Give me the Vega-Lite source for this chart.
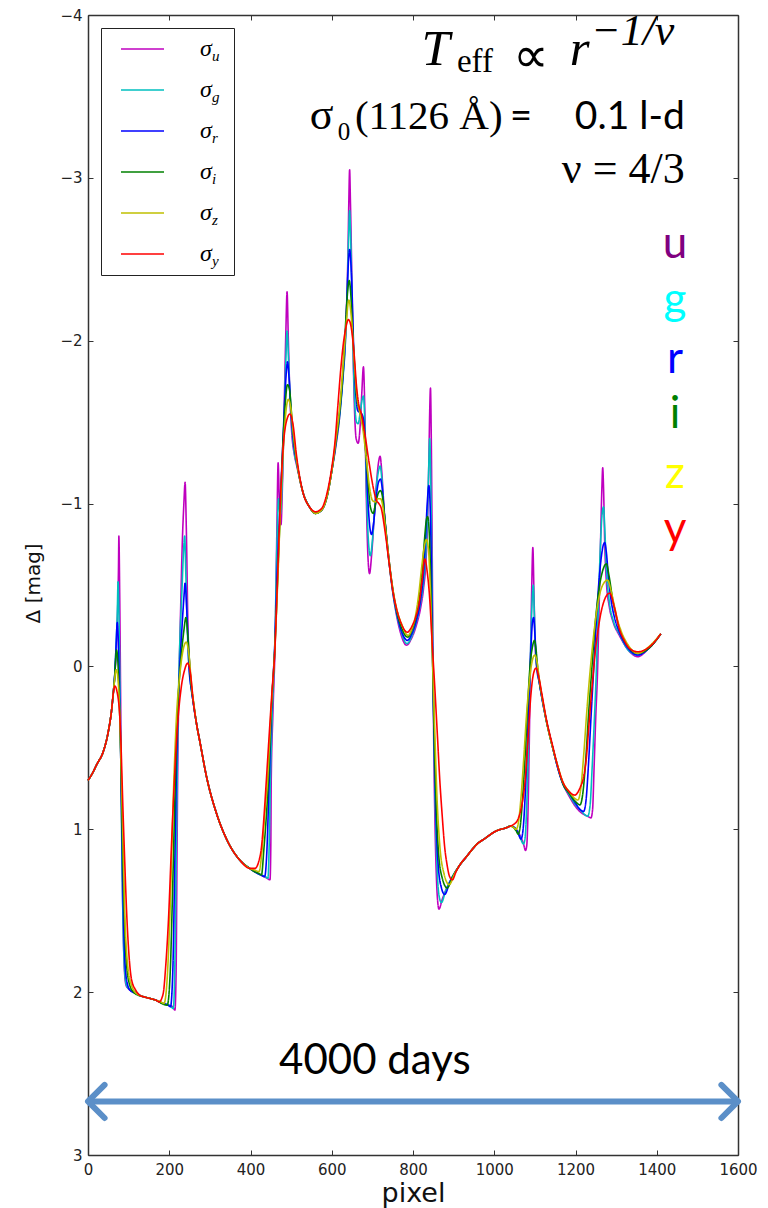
{
"$schema": "https://vega.github.io/schema/vega-lite/v6.json",
"width": 650,
"height": 1140,
"autosize": {"type": "none"},
"padding": {"left": 88, "top": 15, "right": 30, "bottom": 53},
"background": "white",
"config": {
  "view": {"stroke": null},
  "axis": {"grid": false, "domainColor": "#333333", "domainWidth": 1.5, "tickColor": "#333333", "tickWidth": 1, "tickSize": -5, "labelFont": "DejaVu Sans", "labelFontSize": 15, "labelColor": "#222222", "labelFlush": false, "labelOverlap": false, "titleFont": "DejaVu Sans", "titleFontWeight": "normal", "titleColor": "#111111"},
  "axisX": {"titleFontSize": 27}
},
"resolve": {"axis": {"x": "independent", "y": "independent"}},
"layer": [
{
"data": {"values": [
{"band":"u","pixel":0,"mag":0.70},{"band":"u","pixel":10,"mag":0.66},{"band":"u","pixel":22,"mag":0.60},{"band":"u","pixel":38,"mag":0.52},{"band":"u","pixel":50,"mag":0.40},{"band":"u","pixel":58,"mag":0.27},{"band":"u","pixel":62,"mag":0.17},{"band":"u","pixel":66,"mag":0.05},{"band":"u","pixel":70,"mag":-0.12},{"band":"u","pixel":73,"mag":-0.35},{"band":"u","pixel":75,"mag":-0.60},{"band":"u","pixel":76,"mag":-0.80},{"band":"u","pixel":78,"mag":-0.45},{"band":"u","pixel":80,"mag":0.10},{"band":"u","pixel":82,"mag":0.70},{"band":"u","pixel":84,"mag":1.20},{"band":"u","pixel":87,"mag":1.65},{"band":"u","pixel":90,"mag":1.88},{"band":"u","pixel":94,"mag":1.96},{"band":"u","pixel":100,"mag":1.98},{"band":"u","pixel":115,"mag":2.00},{"band":"u","pixel":128,"mag":2.02},{"band":"u","pixel":140,"mag":2.03},{"band":"u","pixel":155,"mag":2.04},{"band":"u","pixel":168,"mag":2.05},{"band":"u","pixel":185,"mag":2.07},{"band":"u","pixel":200,"mag":2.08},{"band":"u","pixel":208,"mag":2.09},{"band":"u","pixel":214,"mag":2.11},{"band":"u","pixel":217,"mag":1.85},{"band":"u","pixel":219,"mag":1.20},{"band":"u","pixel":221,"mag":0.60},{"band":"u","pixel":224,"mag":0.10},{"band":"u","pixel":228,"mag":-0.35},{"band":"u","pixel":232,"mag":-0.75},{"band":"u","pixel":236,"mag":-1.00},{"band":"u","pixel":239,"mag":-1.13},{"band":"u","pixel":242,"mag":-0.85},{"band":"u","pixel":246,"mag":-0.25},{"band":"u","pixel":251,"mag":0.02},{"band":"u","pixel":255,"mag":0.14},{"band":"u","pixel":259,"mag":0.22},{"band":"u","pixel":267,"mag":0.35},{"band":"u","pixel":276,"mag":0.47},{"band":"u","pixel":292,"mag":0.68},{"band":"u","pixel":316,"mag":0.90},{"band":"u","pixel":341,"mag":1.06},{"band":"u","pixel":374,"mag":1.19},{"band":"u","pixel":398,"mag":1.24},{"band":"u","pixel":410,"mag":1.26},{"band":"u","pixel":425,"mag":1.28},{"band":"u","pixel":440,"mag":1.30},{"band":"u","pixel":448,"mag":1.31},{"band":"u","pixel":450,"mag":1.10},{"band":"u","pixel":451,"mag":0.70},{"band":"u","pixel":455,"mag":0.30},{"band":"u","pixel":461,"mag":-0.20},{"band":"u","pixel":465,"mag":-0.85},{"band":"u","pixel":468,"mag":-1.25},{"band":"u","pixel":471,"mag":-1.02},{"band":"u","pixel":475,"mag":-0.87},{"band":"u","pixel":479,"mag":-1.15},{"band":"u","pixel":483,"mag":-1.60},{"band":"u","pixel":487,"mag":-2.05},{"band":"u","pixel":490,"mag":-2.30},{"band":"u","pixel":493,"mag":-2.02},{"band":"u","pixel":497,"mag":-1.66},{"band":"u","pixel":502,"mag":-1.42},{"band":"u","pixel":508,"mag":-1.30},{"band":"u","pixel":514,"mag":-1.23},{"band":"u","pixel":529,"mag":-1.07},{"band":"u","pixel":545,"mag":-0.98},{"band":"u","pixel":560,"mag":-0.94},{"band":"u","pixel":575,"mag":-0.96},{"band":"u","pixel":588,"mag":-1.04},{"band":"u","pixel":600,"mag":-1.20},{"band":"u","pixel":610,"mag":-1.35},{"band":"u","pixel":620,"mag":-1.55},{"band":"u","pixel":628,"mag":-1.80},{"band":"u","pixel":633,"mag":-1.97},{"band":"u","pixel":637,"mag":-2.25},{"band":"u","pixel":640,"mag":-2.55},{"band":"u","pixel":642,"mag":-2.85},{"band":"u","pixel":644,"mag":-3.05},{"band":"u","pixel":646,"mag":-2.85},{"band":"u","pixel":648,"mag":-2.60},{"band":"u","pixel":652,"mag":-2.00},{"band":"u","pixel":656,"mag":-1.58},{"band":"u","pixel":660,"mag":-1.40},{"band":"u","pixel":665,"mag":-1.37},{"band":"u","pixel":670,"mag":-1.48},{"band":"u","pixel":674,"mag":-1.68},{"band":"u","pixel":678,"mag":-1.84},{"band":"u","pixel":681,"mag":-1.62},{"band":"u","pixel":685,"mag":-1.05},{"band":"u","pixel":689,"mag":-0.68},{"band":"u","pixel":693,"mag":-0.57},{"band":"u","pixel":698,"mag":-0.68},{"band":"u","pixel":704,"mag":-0.90},{"band":"u","pixel":710,"mag":-1.12},{"band":"u","pixel":715,"mag":-1.25},{"band":"u","pixel":719,"mag":-1.29},{"band":"u","pixel":723,"mag":-1.20},{"band":"u","pixel":728,"mag":-1.00},{"band":"u","pixel":735,"mag":-0.78},{"band":"u","pixel":742,"mag":-0.62},{"band":"u","pixel":750,"mag":-0.46},{"band":"u","pixel":759,"mag":-0.32},{"band":"u","pixel":770,"mag":-0.20},{"band":"u","pixel":784,"mag":-0.13},{"band":"u","pixel":796,"mag":-0.17},{"band":"u","pixel":808,"mag":-0.25},{"band":"u","pixel":818,"mag":-0.35},{"band":"u","pixel":826,"mag":-0.48},{"band":"u","pixel":832,"mag":-0.65},{"band":"u","pixel":836,"mag":-0.90},{"band":"u","pixel":839,"mag":-1.25},{"band":"u","pixel":841,"mag":-1.55},{"band":"u","pixel":843,"mag":-1.71},{"band":"u","pixel":845,"mag":-1.40},{"band":"u","pixel":847,"mag":-0.80},{"band":"u","pixel":849,"mag":-0.10},{"band":"u","pixel":851,"mag":0.45},{"band":"u","pixel":854,"mag":0.95},{"band":"u","pixel":857,"mag":1.25},{"band":"u","pixel":860,"mag":1.42},{"band":"u","pixel":864,"mag":1.49},{"band":"u","pixel":872,"mag":1.43},{"band":"u","pixel":885,"mag":1.35},{"band":"u","pixel":900,"mag":1.28},{"band":"u","pixel":915,"mag":1.22},{"band":"u","pixel":931,"mag":1.17},{"band":"u","pixel":947,"mag":1.12},{"band":"u","pixel":958,"mag":1.09},{"band":"u","pixel":975,"mag":1.06},{"band":"u","pixel":1005,"mag":1.01},{"band":"u","pixel":1030,"mag":0.99},{"band":"u","pixel":1040,"mag":0.98},{"band":"u","pixel":1050,"mag":0.99},{"band":"u","pixel":1062,"mag":1.03},{"band":"u","pixel":1072,"mag":1.09},{"band":"u","pixel":1077,"mag":1.13},{"band":"u","pixel":1080,"mag":1.10},{"band":"u","pixel":1083,"mag":0.90},{"band":"u","pixel":1086,"mag":0.50},{"band":"u","pixel":1089,"mag":0.00},{"band":"u","pixel":1092,"mag":-0.45},{"band":"u","pixel":1095,"mag":-0.73},{"band":"u","pixel":1098,"mag":-0.42},{"band":"u","pixel":1101,"mag":-0.12},{"band":"u","pixel":1105,"mag":0.02},{"band":"u","pixel":1111,"mag":0.10},{"band":"u","pixel":1120,"mag":0.23},{"band":"u","pixel":1128,"mag":0.33},{"band":"u","pixel":1144,"mag":0.50},{"band":"u","pixel":1156,"mag":0.62},{"band":"u","pixel":1169,"mag":0.72},{"band":"u","pixel":1185,"mag":0.80},{"band":"u","pixel":1200,"mag":0.86},{"band":"u","pixel":1215,"mag":0.90},{"band":"u","pixel":1230,"mag":0.92},{"band":"u","pixel":1238,"mag":0.93},{"band":"u","pixel":1242,"mag":0.88},{"band":"u","pixel":1246,"mag":0.60},{"band":"u","pixel":1250,"mag":0.30},{"band":"u","pixel":1254,"mag":0.05},{"band":"u","pixel":1258,"mag":-0.35},{"band":"u","pixel":1262,"mag":-0.80},{"band":"u","pixel":1265,"mag":-1.10},{"band":"u","pixel":1267,"mag":-1.22},{"band":"u","pixel":1269,"mag":-1.10},{"band":"u","pixel":1272,"mag":-0.75},{"band":"u","pixel":1276,"mag":-0.52},{"band":"u","pixel":1283,"mag":-0.37},{"band":"u","pixel":1293,"mag":-0.27},{"band":"u","pixel":1308,"mag":-0.19},{"band":"u","pixel":1330,"mag":-0.10},{"band":"u","pixel":1353,"mag":-0.06},{"band":"u","pixel":1380,"mag":-0.11},{"band":"u","pixel":1410,"mag":-0.20},

{"band":"g","pixel":0,"mag":0.70},{"band":"g","pixel":10,"mag":0.66},{"band":"g","pixel":22,"mag":0.60},{"band":"g","pixel":38,"mag":0.52},{"band":"g","pixel":50,"mag":0.40},{"band":"g","pixel":58,"mag":0.27},{"band":"g","pixel":62,"mag":0.17},{"band":"g","pixel":66,"mag":0.05},{"band":"g","pixel":69,"mag":-0.12},{"band":"g","pixel":72,"mag":-0.32},{"band":"g","pixel":74,"mag":-0.52},{"band":"g","pixel":76,"mag":-0.35},{"band":"g","pixel":78,"mag":0.00},{"band":"g","pixel":81,"mag":0.60},{"band":"g","pixel":83,"mag":1.05},{"band":"g","pixel":86,"mag":1.55},{"band":"g","pixel":90,"mag":1.86},{"band":"g","pixel":95,"mag":1.96},{"band":"g","pixel":101,"mag":1.98},{"band":"g","pixel":118,"mag":2.00},{"band":"g","pixel":128,"mag":2.02},{"band":"g","pixel":140,"mag":2.03},{"band":"g","pixel":155,"mag":2.04},{"band":"g","pixel":168,"mag":2.05},{"band":"g","pixel":185,"mag":2.07},{"band":"g","pixel":200,"mag":2.08},{"band":"g","pixel":210,"mag":2.10},{"band":"g","pixel":214,"mag":1.80},{"band":"g","pixel":217,"mag":1.20},{"band":"g","pixel":221,"mag":0.40},{"band":"g","pixel":226,"mag":-0.15},{"band":"g","pixel":231,"mag":-0.45},{"band":"g","pixel":235,"mag":-0.70},{"band":"g","pixel":238,"mag":-0.80},{"band":"g","pixel":241,"mag":-0.55},{"band":"g","pixel":246,"mag":-0.12},{"band":"g","pixel":252,"mag":0.09},{"band":"g","pixel":259,"mag":0.22},{"band":"g","pixel":267,"mag":0.35},{"band":"g","pixel":276,"mag":0.47},{"band":"g","pixel":292,"mag":0.68},{"band":"g","pixel":316,"mag":0.90},{"band":"g","pixel":341,"mag":1.06},{"band":"g","pixel":374,"mag":1.19},{"band":"g","pixel":398,"mag":1.24},{"band":"g","pixel":410,"mag":1.26},{"band":"g","pixel":425,"mag":1.28},{"band":"g","pixel":436,"mag":1.29},{"band":"g","pixel":443,"mag":1.30},{"band":"g","pixel":446,"mag":1.10},{"band":"g","pixel":449,"mag":0.70},{"band":"g","pixel":454,"mag":0.25},{"band":"g","pixel":460,"mag":-0.15},{"band":"g","pixel":465,"mag":-0.75},{"band":"g","pixel":469,"mag":-1.03},{"band":"g","pixel":473,"mag":-0.93},{"band":"g","pixel":478,"mag":-1.12},{"band":"g","pixel":483,"mag":-1.55},{"band":"g","pixel":487,"mag":-1.88},{"band":"g","pixel":490,"mag":-2.06},{"band":"g","pixel":494,"mag":-1.86},{"band":"g","pixel":498,"mag":-1.62},{"band":"g","pixel":503,"mag":-1.43},{"band":"g","pixel":508,"mag":-1.31},{"band":"g","pixel":514,"mag":-1.24},{"band":"g","pixel":529,"mag":-1.07},{"band":"g","pixel":545,"mag":-0.98},{"band":"g","pixel":560,"mag":-0.94},{"band":"g","pixel":575,"mag":-0.96},{"band":"g","pixel":588,"mag":-1.04},{"band":"g","pixel":600,"mag":-1.20},{"band":"g","pixel":610,"mag":-1.36},{"band":"g","pixel":620,"mag":-1.55},{"band":"g","pixel":628,"mag":-1.78},{"band":"g","pixel":633,"mag":-1.96},{"band":"g","pixel":637,"mag":-2.20},{"band":"g","pixel":640,"mag":-2.48},{"band":"g","pixel":642,"mag":-2.68},{"band":"g","pixel":644,"mag":-2.80},{"band":"g","pixel":646,"mag":-2.68},{"band":"g","pixel":648,"mag":-2.48},{"band":"g","pixel":652,"mag":-2.00},{"band":"g","pixel":657,"mag":-1.60},{"band":"g","pixel":661,"mag":-1.50},{"band":"g","pixel":665,"mag":-1.49},{"band":"g","pixel":670,"mag":-1.56},{"band":"g","pixel":675,"mag":-1.64},{"band":"g","pixel":678,"mag":-1.66},{"band":"g","pixel":682,"mag":-1.45},{"band":"g","pixel":686,"mag":-1.05},{"band":"g","pixel":690,"mag":-0.78},{"band":"g","pixel":695,"mag":-0.68},{"band":"g","pixel":700,"mag":-0.77},{"band":"g","pixel":706,"mag":-0.98},{"band":"g","pixel":712,"mag":-1.15},{"band":"g","pixel":716,"mag":-1.21},{"band":"g","pixel":719,"mag":-1.23},{"band":"g","pixel":723,"mag":-1.16},{"band":"g","pixel":728,"mag":-0.98},{"band":"g","pixel":735,"mag":-0.78},{"band":"g","pixel":742,"mag":-0.62},{"band":"g","pixel":750,"mag":-0.46},{"band":"g","pixel":759,"mag":-0.33},{"band":"g","pixel":770,"mag":-0.22},{"band":"g","pixel":785,"mag":-0.14},{"band":"g","pixel":796,"mag":-0.18},{"band":"g","pixel":808,"mag":-0.27},{"band":"g","pixel":818,"mag":-0.38},{"band":"g","pixel":826,"mag":-0.52},{"band":"g","pixel":832,"mag":-0.72},{"band":"g","pixel":836,"mag":-0.98},{"band":"g","pixel":839,"mag":-1.25},{"band":"g","pixel":841,"mag":-1.40},{"band":"g","pixel":843,"mag":-1.25},{"band":"g","pixel":846,"mag":-0.70},{"band":"g","pixel":849,"mag":-0.05},{"band":"g","pixel":852,"mag":0.50},{"band":"g","pixel":856,"mag":0.98},{"band":"g","pixel":860,"mag":1.28},{"band":"g","pixel":865,"mag":1.42},{"band":"g","pixel":870,"mag":1.45},{"band":"g","pixel":880,"mag":1.38},{"band":"g","pixel":895,"mag":1.30},{"band":"g","pixel":915,"mag":1.22},{"band":"g","pixel":931,"mag":1.17},{"band":"g","pixel":947,"mag":1.12},{"band":"g","pixel":958,"mag":1.09},{"band":"g","pixel":975,"mag":1.06},{"band":"g","pixel":1005,"mag":1.01},{"band":"g","pixel":1030,"mag":0.99},{"band":"g","pixel":1040,"mag":0.98},{"band":"g","pixel":1050,"mag":0.99},{"band":"g","pixel":1062,"mag":1.04},{"band":"g","pixel":1072,"mag":1.09},{"band":"g","pixel":1076,"mag":1.05},{"band":"g","pixel":1080,"mag":0.85},{"band":"g","pixel":1084,"mag":0.50},{"band":"g","pixel":1088,"mag":0.05},{"band":"g","pixel":1092,"mag":-0.32},{"band":"g","pixel":1096,"mag":-0.50},{"band":"g","pixel":1099,"mag":-0.30},{"band":"g","pixel":1102,"mag":-0.08},{"band":"g","pixel":1106,"mag":0.03},{"band":"g","pixel":1111,"mag":0.10},{"band":"g","pixel":1120,"mag":0.23},{"band":"g","pixel":1128,"mag":0.33},{"band":"g","pixel":1144,"mag":0.50},{"band":"g","pixel":1156,"mag":0.62},{"band":"g","pixel":1169,"mag":0.72},{"band":"g","pixel":1185,"mag":0.79},{"band":"g","pixel":1200,"mag":0.85},{"band":"g","pixel":1215,"mag":0.89},{"band":"g","pixel":1230,"mag":0.92},{"band":"g","pixel":1236,"mag":0.85},{"band":"g","pixel":1241,"mag":0.62},{"band":"g","pixel":1246,"mag":0.35},{"band":"g","pixel":1251,"mag":0.05},{"band":"g","pixel":1256,"mag":-0.35},{"band":"g","pixel":1261,"mag":-0.72},{"band":"g","pixel":1265,"mag":-0.92},{"band":"g","pixel":1269,"mag":-0.98},{"band":"g","pixel":1272,"mag":-0.85},{"band":"g","pixel":1276,"mag":-0.60},{"band":"g","pixel":1283,"mag":-0.40},{"band":"g","pixel":1293,"mag":-0.28},{"band":"g","pixel":1308,"mag":-0.20},{"band":"g","pixel":1330,"mag":-0.10},{"band":"g","pixel":1353,"mag":-0.07},{"band":"g","pixel":1380,"mag":-0.11},{"band":"g","pixel":1410,"mag":-0.20},

{"band":"r","pixel":0,"mag":0.70},{"band":"r","pixel":10,"mag":0.66},{"band":"r","pixel":22,"mag":0.60},{"band":"r","pixel":38,"mag":0.52},{"band":"r","pixel":50,"mag":0.40},{"band":"r","pixel":58,"mag":0.27},{"band":"r","pixel":62,"mag":0.17},{"band":"r","pixel":66,"mag":0.04},{"band":"r","pixel":69,"mag":-0.12},{"band":"r","pixel":72,"mag":-0.27},{"band":"r","pixel":74,"mag":-0.20},{"band":"r","pixel":77,"mag":0.10},{"band":"r","pixel":81,"mag":0.62},{"band":"r","pixel":84,"mag":1.10},{"band":"r","pixel":87,"mag":1.50},{"band":"r","pixel":91,"mag":1.82},{"band":"r","pixel":97,"mag":1.95},{"band":"r","pixel":104,"mag":1.99},{"band":"r","pixel":120,"mag":2.01},{"band":"r","pixel":128,"mag":2.02},{"band":"r","pixel":140,"mag":2.03},{"band":"r","pixel":155,"mag":2.04},{"band":"r","pixel":168,"mag":2.05},{"band":"r","pixel":185,"mag":2.07},{"band":"r","pixel":197,"mag":2.08},{"band":"r","pixel":203,"mag":2.09},{"band":"r","pixel":209,"mag":1.85},{"band":"r","pixel":213,"mag":1.30},{"band":"r","pixel":218,"mag":0.60},{"band":"r","pixel":224,"mag":0.10},{"band":"r","pixel":230,"mag":-0.18},{"band":"r","pixel":236,"mag":-0.42},{"band":"r","pixel":239,"mag":-0.51},{"band":"r","pixel":243,"mag":-0.35},{"band":"r","pixel":249,"mag":0.02},{"band":"r","pixel":255,"mag":0.15},{"band":"r","pixel":259,"mag":0.22},{"band":"r","pixel":267,"mag":0.35},{"band":"r","pixel":276,"mag":0.47},{"band":"r","pixel":292,"mag":0.68},{"band":"r","pixel":316,"mag":0.90},{"band":"r","pixel":341,"mag":1.06},{"band":"r","pixel":374,"mag":1.19},{"band":"r","pixel":398,"mag":1.24},{"band":"r","pixel":410,"mag":1.26},{"band":"r","pixel":425,"mag":1.28},{"band":"r","pixel":435,"mag":1.29},{"band":"r","pixel":440,"mag":1.15},{"band":"r","pixel":446,"mag":0.70},{"band":"r","pixel":452,"mag":0.25},{"band":"r","pixel":460,"mag":-0.15},{"band":"r","pixel":466,"mag":-0.60},{"band":"r","pixel":472,"mag":-0.95},{"band":"r","pixel":478,"mag":-1.28},{"band":"r","pixel":484,"mag":-1.62},{"band":"r","pixel":488,"mag":-1.80},{"band":"r","pixel":491,"mag":-1.87},{"band":"r","pixel":495,"mag":-1.77},{"band":"r","pixel":500,"mag":-1.56},{"band":"r","pixel":506,"mag":-1.38},{"band":"r","pixel":514,"mag":-1.25},{"band":"r","pixel":529,"mag":-1.07},{"band":"r","pixel":545,"mag":-0.98},{"band":"r","pixel":560,"mag":-0.94},{"band":"r","pixel":575,"mag":-0.96},{"band":"r","pixel":588,"mag":-1.04},{"band":"r","pixel":600,"mag":-1.20},{"band":"r","pixel":610,"mag":-1.37},{"band":"r","pixel":620,"mag":-1.57},{"band":"r","pixel":628,"mag":-1.80},{"band":"r","pixel":634,"mag":-2.05},{"band":"r","pixel":638,"mag":-2.30},{"band":"r","pixel":641,"mag":-2.48},{"band":"r","pixel":644,"mag":-2.56},{"band":"r","pixel":647,"mag":-2.48},{"band":"r","pixel":650,"mag":-2.30},{"band":"r","pixel":654,"mag":-1.95},{"band":"r","pixel":659,"mag":-1.68},{"band":"r","pixel":664,"mag":-1.57},{"band":"r","pixel":669,"mag":-1.56},{"band":"r","pixel":674,"mag":-1.55},{"band":"r","pixel":679,"mag":-1.50},{"band":"r","pixel":684,"mag":-1.30},{"band":"r","pixel":689,"mag":-1.02},{"band":"r","pixel":694,"mag":-0.85},{"band":"r","pixel":698,"mag":-0.81},{"band":"r","pixel":703,"mag":-0.88},{"band":"r","pixel":709,"mag":-1.03},{"band":"r","pixel":715,"mag":-1.13},{"band":"r","pixel":720,"mag":-1.15},{"band":"r","pixel":724,"mag":-1.10},{"band":"r","pixel":729,"mag":-0.95},{"band":"r","pixel":736,"mag":-0.77},{"band":"r","pixel":742,"mag":-0.63},{"band":"r","pixel":750,"mag":-0.47},{"band":"r","pixel":759,"mag":-0.34},{"band":"r","pixel":770,"mag":-0.23},{"band":"r","pixel":786,"mag":-0.16},{"band":"r","pixel":797,"mag":-0.20},{"band":"r","pixel":808,"mag":-0.28},{"band":"r","pixel":818,"mag":-0.40},{"band":"r","pixel":826,"mag":-0.58},{"band":"r","pixel":831,"mag":-0.80},{"band":"r","pixel":835,"mag":-1.00},{"band":"r","pixel":839,"mag":-1.11},{"band":"r","pixel":842,"mag":-1.00},{"band":"r","pixel":845,"mag":-0.65},{"band":"r","pixel":848,"mag":-0.10},{"band":"r","pixel":852,"mag":0.45},{"band":"r","pixel":857,"mag":0.95},{"band":"r","pixel":862,"mag":1.22},{"band":"r","pixel":870,"mag":1.36},{"band":"r","pixel":878,"mag":1.40},{"band":"r","pixel":890,"mag":1.33},{"band":"r","pixel":905,"mag":1.26},{"band":"r","pixel":915,"mag":1.22},{"band":"r","pixel":931,"mag":1.17},{"band":"r","pixel":947,"mag":1.12},{"band":"r","pixel":958,"mag":1.09},{"band":"r","pixel":975,"mag":1.06},{"band":"r","pixel":1005,"mag":1.01},{"band":"r","pixel":1030,"mag":0.99},{"band":"r","pixel":1040,"mag":0.98},{"band":"r","pixel":1050,"mag":0.99},{"band":"r","pixel":1058,"mag":1.02},{"band":"r","pixel":1066,"mag":1.06},{"band":"r","pixel":1071,"mag":1.00},{"band":"r","pixel":1076,"mag":0.80},{"band":"r","pixel":1081,"mag":0.50},{"band":"r","pixel":1086,"mag":0.15},{"band":"r","pixel":1091,"mag":-0.15},{"band":"r","pixel":1094,"mag":-0.27},{"band":"r","pixel":1097,"mag":-0.30},{"band":"r","pixel":1100,"mag":-0.20},{"band":"r","pixel":1104,"mag":-0.03},{"band":"r","pixel":1111,"mag":0.10},{"band":"r","pixel":1120,"mag":0.23},{"band":"r","pixel":1128,"mag":0.33},{"band":"r","pixel":1144,"mag":0.50},{"band":"r","pixel":1156,"mag":0.62},{"band":"r","pixel":1169,"mag":0.72},{"band":"r","pixel":1185,"mag":0.78},{"band":"r","pixel":1200,"mag":0.84},{"band":"r","pixel":1212,"mag":0.88},{"band":"r","pixel":1220,"mag":0.89},{"band":"r","pixel":1226,"mag":0.82},{"band":"r","pixel":1232,"mag":0.60},{"band":"r","pixel":1238,"mag":0.32},{"band":"r","pixel":1244,"mag":0.05},{"band":"r","pixel":1250,"mag":-0.22},{"band":"r","pixel":1257,"mag":-0.50},{"band":"r","pixel":1264,"mag":-0.68},{"band":"r","pixel":1269,"mag":-0.75},{"band":"r","pixel":1272,"mag":-0.76},{"band":"r","pixel":1276,"mag":-0.70},{"band":"r","pixel":1281,"mag":-0.55},{"band":"r","pixel":1288,"mag":-0.40},{"band":"r","pixel":1296,"mag":-0.30},{"band":"r","pixel":1308,"mag":-0.21},{"band":"r","pixel":1330,"mag":-0.11},{"band":"r","pixel":1353,"mag":-0.07},{"band":"r","pixel":1380,"mag":-0.11},{"band":"r","pixel":1410,"mag":-0.20},

{"band":"i","pixel":0,"mag":0.70},{"band":"i","pixel":10,"mag":0.66},{"band":"i","pixel":22,"mag":0.60},{"band":"i","pixel":38,"mag":0.52},{"band":"i","pixel":50,"mag":0.40},{"band":"i","pixel":58,"mag":0.27},{"band":"i","pixel":62,"mag":0.17},{"band":"i","pixel":66,"mag":0.05},{"band":"i","pixel":68,"mag":-0.04},{"band":"i","pixel":70,"mag":-0.10},{"band":"i","pixel":72,"mag":-0.08},{"band":"i","pixel":76,"mag":0.12},{"band":"i","pixel":81,"mag":0.60},{"band":"i","pixel":85,"mag":1.10},{"band":"i","pixel":89,"mag":1.50},{"band":"i","pixel":94,"mag":1.80},{"band":"i","pixel":102,"mag":1.95},{"band":"i","pixel":112,"mag":2.00},{"band":"i","pixel":125,"mag":2.02},{"band":"i","pixel":140,"mag":2.03},{"band":"i","pixel":155,"mag":2.04},{"band":"i","pixel":168,"mag":2.05},{"band":"i","pixel":182,"mag":2.07},{"band":"i","pixel":195,"mag":2.08},{"band":"i","pixel":202,"mag":1.90},{"band":"i","pixel":208,"mag":1.40},{"band":"i","pixel":214,"mag":0.80},{"band":"i","pixel":221,"mag":0.25},{"band":"i","pixel":229,"mag":-0.05},{"band":"i","pixel":236,"mag":-0.22},{"band":"i","pixel":241,"mag":-0.30},{"band":"i","pixel":246,"mag":-0.18},{"band":"i","pixel":253,"mag":0.09},{"band":"i","pixel":259,"mag":0.21},{"band":"i","pixel":267,"mag":0.35},{"band":"i","pixel":276,"mag":0.47},{"band":"i","pixel":292,"mag":0.68},{"band":"i","pixel":316,"mag":0.90},{"band":"i","pixel":341,"mag":1.06},{"band":"i","pixel":374,"mag":1.19},{"band":"i","pixel":398,"mag":1.24},{"band":"i","pixel":410,"mag":1.26},{"band":"i","pixel":420,"mag":1.27},{"band":"i","pixel":427,"mag":1.28},{"band":"i","pixel":433,"mag":1.12},{"band":"i","pixel":444,"mag":0.70},{"band":"i","pixel":451,"mag":0.28},{"band":"i","pixel":460,"mag":-0.12},{"band":"i","pixel":467,"mag":-0.55},{"band":"i","pixel":474,"mag":-1.00},{"band":"i","pixel":480,"mag":-1.38},{"band":"i","pixel":486,"mag":-1.63},{"band":"i","pixel":491,"mag":-1.73},{"band":"i","pixel":496,"mag":-1.70},{"band":"i","pixel":502,"mag":-1.52},{"band":"i","pixel":508,"mag":-1.36},{"band":"i","pixel":515,"mag":-1.24},{"band":"i","pixel":529,"mag":-1.07},{"band":"i","pixel":545,"mag":-0.98},{"band":"i","pixel":560,"mag":-0.94},{"band":"i","pixel":575,"mag":-0.96},{"band":"i","pixel":588,"mag":-1.04},{"band":"i","pixel":600,"mag":-1.20},{"band":"i","pixel":610,"mag":-1.38},{"band":"i","pixel":620,"mag":-1.58},{"band":"i","pixel":628,"mag":-1.83},{"band":"i","pixel":634,"mag":-2.10},{"band":"i","pixel":639,"mag":-2.30},{"band":"i","pixel":643,"mag":-2.37},{"band":"i","pixel":647,"mag":-2.28},{"band":"i","pixel":651,"mag":-2.08},{"band":"i","pixel":655,"mag":-1.90},{"band":"i","pixel":661,"mag":-1.66},{"band":"i","pixel":667,"mag":-1.58},{"band":"i","pixel":674,"mag":-1.52},{"band":"i","pixel":681,"mag":-1.40},{"band":"i","pixel":688,"mag":-1.18},{"band":"i","pixel":695,"mag":-0.98},{"band":"i","pixel":702,"mag":-0.94},{"band":"i","pixel":708,"mag":-1.00},{"band":"i","pixel":714,"mag":-1.06},{"band":"i","pixel":720,"mag":-1.08},{"band":"i","pixel":725,"mag":-1.04},{"band":"i","pixel":730,"mag":-0.92},{"band":"i","pixel":736,"mag":-0.77},{"band":"i","pixel":742,"mag":-0.63},{"band":"i","pixel":750,"mag":-0.48},{"band":"i","pixel":759,"mag":-0.35},{"band":"i","pixel":770,"mag":-0.25},{"band":"i","pixel":787,"mag":-0.18},{"band":"i","pixel":797,"mag":-0.22},{"band":"i","pixel":807,"mag":-0.30},{"band":"i","pixel":816,"mag":-0.43},{"band":"i","pixel":823,"mag":-0.60},{"band":"i","pixel":829,"mag":-0.80},{"band":"i","pixel":833,"mag":-0.90},{"band":"i","pixel":836,"mag":-0.92},{"band":"i","pixel":840,"mag":-0.82},{"band":"i","pixel":844,"mag":-0.50},{"band":"i","pixel":848,"mag":-0.05},{"band":"i","pixel":852,"mag":0.40},{"band":"i","pixel":857,"mag":0.85},{"band":"i","pixel":863,"mag":1.15},{"band":"i","pixel":872,"mag":1.30},{"band":"i","pixel":884,"mag":1.36},{"band":"i","pixel":898,"mag":1.29},{"band":"i","pixel":915,"mag":1.22},{"band":"i","pixel":931,"mag":1.17},{"band":"i","pixel":947,"mag":1.12},{"band":"i","pixel":958,"mag":1.09},{"band":"i","pixel":975,"mag":1.06},{"band":"i","pixel":1005,"mag":1.01},{"band":"i","pixel":1030,"mag":0.99},{"band":"i","pixel":1040,"mag":0.98},{"band":"i","pixel":1048,"mag":0.99},{"band":"i","pixel":1054,"mag":1.01},{"band":"i","pixel":1059,"mag":1.03},{"band":"i","pixel":1064,"mag":0.98},{"band":"i","pixel":1070,"mag":0.80},{"band":"i","pixel":1076,"mag":0.55},{"band":"i","pixel":1082,"mag":0.25},{"band":"i","pixel":1088,"mag":0.00},{"band":"i","pixel":1094,"mag":-0.12},{"band":"i","pixel":1099,"mag":-0.16},{"band":"i","pixel":1103,"mag":-0.10},{"band":"i","pixel":1107,"mag":0.01},{"band":"i","pixel":1111,"mag":0.09},{"band":"i","pixel":1120,"mag":0.22},{"band":"i","pixel":1128,"mag":0.33},{"band":"i","pixel":1144,"mag":0.50},{"band":"i","pixel":1156,"mag":0.61},{"band":"i","pixel":1169,"mag":0.72},{"band":"i","pixel":1185,"mag":0.78},{"band":"i","pixel":1200,"mag":0.83},{"band":"i","pixel":1211,"mag":0.85},{"band":"i","pixel":1218,"mag":0.78},{"band":"i","pixel":1225,"mag":0.58},{"band":"i","pixel":1232,"mag":0.30},{"band":"i","pixel":1240,"mag":0.02},{"band":"i","pixel":1248,"mag":-0.25},{"band":"i","pixel":1257,"mag":-0.46},{"band":"i","pixel":1266,"mag":-0.58},{"band":"i","pixel":1276,"mag":-0.63},{"band":"i","pixel":1283,"mag":-0.55},{"band":"i","pixel":1291,"mag":-0.42},{"band":"i","pixel":1300,"mag":-0.31},{"band":"i","pixel":1310,"mag":-0.22},{"band":"i","pixel":1330,"mag":-0.12},{"band":"i","pixel":1353,"mag":-0.08},{"band":"i","pixel":1380,"mag":-0.11},{"band":"i","pixel":1410,"mag":-0.20},

{"band":"z","pixel":0,"mag":0.70},{"band":"z","pixel":10,"mag":0.66},{"band":"z","pixel":22,"mag":0.60},{"band":"z","pixel":38,"mag":0.52},{"band":"z","pixel":50,"mag":0.40},{"band":"z","pixel":58,"mag":0.27},{"band":"z","pixel":62,"mag":0.17},{"band":"z","pixel":66,"mag":0.07},{"band":"z","pixel":69,"mag":0.02},{"band":"z","pixel":72,"mag":0.04},{"band":"z","pixel":77,"mag":0.22},{"band":"z","pixel":82,"mag":0.65},{"band":"z","pixel":86,"mag":1.05},{"band":"z","pixel":91,"mag":1.55},{"band":"z","pixel":97,"mag":1.82},{"band":"z","pixel":106,"mag":1.95},{"band":"z","pixel":120,"mag":2.01},{"band":"z","pixel":128,"mag":2.02},{"band":"z","pixel":140,"mag":2.03},{"band":"z","pixel":155,"mag":2.04},{"band":"z","pixel":168,"mag":2.05},{"band":"z","pixel":180,"mag":2.06},{"band":"z","pixel":187,"mag":2.07},{"band":"z","pixel":194,"mag":1.95},{"band":"z","pixel":202,"mag":1.50},{"band":"z","pixel":210,"mag":0.80},{"band":"z","pixel":218,"mag":0.30},{"band":"z","pixel":226,"mag":0.05},{"band":"z","pixel":234,"mag":-0.10},{"band":"z","pixel":242,"mag":-0.15},{"band":"z","pixel":248,"mag":-0.08},{"band":"z","pixel":256,"mag":0.14},{"band":"z","pixel":261,"mag":0.24},{"band":"z","pixel":267,"mag":0.35},{"band":"z","pixel":276,"mag":0.47},{"band":"z","pixel":292,"mag":0.68},{"band":"z","pixel":316,"mag":0.90},{"band":"z","pixel":341,"mag":1.06},{"band":"z","pixel":374,"mag":1.19},{"band":"z","pixel":398,"mag":1.24},{"band":"z","pixel":410,"mag":1.25},{"band":"z","pixel":421,"mag":1.26},{"band":"z","pixel":428,"mag":1.14},{"band":"z","pixel":436,"mag":0.88},{"band":"z","pixel":442,"mag":0.70},{"band":"z","pixel":450,"mag":0.30},{"band":"z","pixel":460,"mag":-0.11},{"band":"z","pixel":467,"mag":-0.52},{"band":"z","pixel":474,"mag":-0.98},{"band":"z","pixel":481,"mag":-1.35},{"band":"z","pixel":487,"mag":-1.56},{"band":"z","pixel":493,"mag":-1.64},{"band":"z","pixel":499,"mag":-1.59},{"band":"z","pixel":506,"mag":-1.42},{"band":"z","pixel":515,"mag":-1.24},{"band":"z","pixel":529,"mag":-1.07},{"band":"z","pixel":545,"mag":-0.98},{"band":"z","pixel":560,"mag":-0.94},{"band":"z","pixel":575,"mag":-0.96},{"band":"z","pixel":588,"mag":-1.04},{"band":"z","pixel":600,"mag":-1.20},{"band":"z","pixel":610,"mag":-1.39},{"band":"z","pixel":620,"mag":-1.60},{"band":"z","pixel":628,"mag":-1.85},{"band":"z","pixel":635,"mag":-2.08},{"band":"z","pixel":642,"mag":-2.25},{"band":"z","pixel":648,"mag":-2.15},{"band":"z","pixel":656,"mag":-1.85},{"band":"z","pixel":662,"mag":-1.66},{"band":"z","pixel":669,"mag":-1.56},{"band":"z","pixel":677,"mag":-1.45},{"band":"z","pixel":685,"mag":-1.28},{"band":"z","pixel":693,"mag":-1.10},{"band":"z","pixel":700,"mag":-1.02},{"band":"z","pixel":707,"mag":-1.01},{"band":"z","pixel":714,"mag":-1.03},{"band":"z","pixel":720,"mag":-1.03},{"band":"z","pixel":726,"mag":-0.98},{"band":"z","pixel":732,"mag":-0.85},{"band":"z","pixel":738,"mag":-0.72},{"band":"z","pixel":745,"mag":-0.57},{"band":"z","pixel":752,"mag":-0.45},{"band":"z","pixel":760,"mag":-0.35},{"band":"z","pixel":772,"mag":-0.26},{"band":"z","pixel":788,"mag":-0.19},{"band":"z","pixel":797,"mag":-0.23},{"band":"z","pixel":806,"mag":-0.31},{"band":"z","pixel":814,"mag":-0.44},{"band":"z","pixel":821,"mag":-0.60},{"band":"z","pixel":827,"mag":-0.72},{"band":"z","pixel":833,"mag":-0.78},{"band":"z","pixel":838,"mag":-0.72},{"band":"z","pixel":843,"mag":-0.45},{"band":"z","pixel":848,"mag":-0.05},{"band":"z","pixel":853,"mag":0.35},{"band":"z","pixel":859,"mag":0.80},{"band":"z","pixel":866,"mag":1.10},{"band":"z","pixel":876,"mag":1.27},{"band":"z","pixel":889,"mag":1.34},{"band":"z","pixel":903,"mag":1.27},{"band":"z","pixel":915,"mag":1.22},{"band":"z","pixel":931,"mag":1.17},{"band":"z","pixel":947,"mag":1.12},{"band":"z","pixel":958,"mag":1.09},{"band":"z","pixel":975,"mag":1.06},{"band":"z","pixel":1005,"mag":1.01},{"band":"z","pixel":1030,"mag":0.99},{"band":"z","pixel":1040,"mag":0.98},{"band":"z","pixel":1048,"mag":0.99},{"band":"z","pixel":1054,"mag":1.00},{"band":"z","pixel":1060,"mag":0.95},{"band":"z","pixel":1066,"mag":0.80},{"band":"z","pixel":1073,"mag":0.55},{"band":"z","pixel":1080,"mag":0.28},{"band":"z","pixel":1087,"mag":0.08},{"band":"z","pixel":1094,"mag":-0.04},{"band":"z","pixel":1100,"mag":-0.07},{"band":"z","pixel":1105,"mag":-0.03},{"band":"z","pixel":1111,"mag":0.08},{"band":"z","pixel":1120,"mag":0.22},{"band":"z","pixel":1128,"mag":0.33},{"band":"z","pixel":1144,"mag":0.50},{"band":"z","pixel":1156,"mag":0.61},{"band":"z","pixel":1169,"mag":0.71},{"band":"z","pixel":1185,"mag":0.77},{"band":"z","pixel":1198,"mag":0.81},{"band":"z","pixel":1206,"mag":0.82},{"band":"z","pixel":1213,"mag":0.75},{"band":"z","pixel":1220,"mag":0.55},{"band":"z","pixel":1228,"mag":0.27},{"band":"z","pixel":1237,"mag":0.00},{"band":"z","pixel":1246,"mag":-0.22},{"band":"z","pixel":1256,"mag":-0.40},{"band":"z","pixel":1267,"mag":-0.50},{"band":"z","pixel":1279,"mag":-0.53},{"band":"z","pixel":1287,"mag":-0.47},{"band":"z","pixel":1295,"mag":-0.38},{"band":"z","pixel":1304,"mag":-0.28},{"band":"z","pixel":1312,"mag":-0.22},{"band":"z","pixel":1330,"mag":-0.13},{"band":"z","pixel":1353,"mag":-0.08},{"band":"z","pixel":1380,"mag":-0.12},{"band":"z","pixel":1410,"mag":-0.20},

{"band":"y","pixel":0,"mag":0.70},{"band":"y","pixel":10,"mag":0.66},{"band":"y","pixel":22,"mag":0.60},{"band":"y","pixel":38,"mag":0.52},{"band":"y","pixel":50,"mag":0.40},{"band":"y","pixel":58,"mag":0.27},{"band":"y","pixel":62,"mag":0.17},{"band":"y","pixel":66,"mag":0.12},{"band":"y","pixel":71,"mag":0.15},{"band":"y","pixel":79,"mag":0.34},{"band":"y","pixel":87,"mag":0.95},{"band":"y","pixel":97,"mag":1.61},{"band":"y","pixel":107,"mag":1.92},{"band":"y","pixel":118,"mag":1.99},{"band":"y","pixel":128,"mag":2.02},{"band":"y","pixel":140,"mag":2.03},{"band":"y","pixel":155,"mag":2.04},{"band":"y","pixel":168,"mag":2.05},{"band":"y","pixel":175,"mag":2.06},{"band":"y","pixel":185,"mag":2.01},{"band":"y","pixel":191,"mag":1.85},{"band":"y","pixel":197,"mag":1.61},{"band":"y","pixel":208,"mag":0.95},{"band":"y","pixel":219,"mag":0.41},{"band":"y","pixel":230,"mag":0.12},{"band":"y","pixel":238,"mag":0.02},{"band":"y","pixel":245,"mag":-0.02},{"band":"y","pixel":252,"mag":0.04},{"band":"y","pixel":259,"mag":0.21},{"band":"y","pixel":267,"mag":0.35},{"band":"y","pixel":276,"mag":0.47},{"band":"y","pixel":292,"mag":0.68},{"band":"y","pixel":316,"mag":0.90},{"band":"y","pixel":341,"mag":1.06},{"band":"y","pixel":374,"mag":1.19},{"band":"y","pixel":398,"mag":1.24},{"band":"y","pixel":411,"mag":1.24},{"band":"y","pixel":420,"mag":1.20},{"band":"y","pixel":427,"mag":1.11},{"band":"y","pixel":433,"mag":0.93},{"band":"y","pixel":439,"mag":0.70},{"band":"y","pixel":446,"mag":0.42},{"band":"y","pixel":453,"mag":0.15},{"band":"y","pixel":460,"mag":-0.10},{"band":"y","pixel":466,"mag":-0.50},{"band":"y","pixel":472,"mag":-0.92},{"band":"y","pixel":480,"mag":-1.33},{"band":"y","pixel":488,"mag":-1.50},{"band":"y","pixel":497,"mag":-1.55},{"band":"y","pixel":505,"mag":-1.48},{"band":"y","pixel":513,"mag":-1.30},{"band":"y","pixel":529,"mag":-1.07},{"band":"y","pixel":545,"mag":-0.98},{"band":"y","pixel":560,"mag":-0.95},{"band":"y","pixel":575,"mag":-0.97},{"band":"y","pixel":588,"mag":-1.06},{"band":"y","pixel":600,"mag":-1.22},{"band":"y","pixel":608,"mag":-1.38},{"band":"y","pixel":615,"mag":-1.60},{"band":"y","pixel":622,"mag":-1.82},{"band":"y","pixel":628,"mag":-1.97},{"band":"y","pixel":634,"mag":-2.07},{"band":"y","pixel":641,"mag":-2.13},{"band":"y","pixel":648,"mag":-2.08},{"band":"y","pixel":655,"mag":-1.92},{"band":"y","pixel":661,"mag":-1.72},{"band":"y","pixel":667,"mag":-1.60},{"band":"y","pixel":673,"mag":-1.55},{"band":"y","pixel":682,"mag":-1.42},{"band":"y","pixel":692,"mag":-1.25},{"band":"y","pixel":702,"mag":-1.10},{"band":"y","pixel":710,"mag":-1.02},{"band":"y","pixel":716,"mag":-1.00},{"band":"y","pixel":722,"mag":-0.97},{"band":"y","pixel":730,"mag":-0.85},{"band":"y","pixel":742,"mag":-0.62},{"band":"y","pixel":750,"mag":-0.47},{"band":"y","pixel":759,"mag":-0.36},{"band":"y","pixel":770,"mag":-0.27},{"band":"y","pixel":786,"mag":-0.21},{"band":"y","pixel":796,"mag":-0.24},{"band":"y","pixel":806,"mag":-0.30},{"band":"y","pixel":816,"mag":-0.40},{"band":"y","pixel":822,"mag":-0.52},{"band":"y","pixel":829,"mag":-0.66},{"band":"y","pixel":835,"mag":-0.58},{"band":"y","pixel":841,"mag":-0.42},{"band":"y","pixel":847,"mag":-0.15},{"band":"y","pixel":853,"mag":0.10},{"band":"y","pixel":860,"mag":0.42},{"band":"y","pixel":866,"mag":0.70},{"band":"y","pixel":872,"mag":0.92},{"band":"y","pixel":878,"mag":1.11},{"band":"y","pixel":884,"mag":1.22},{"band":"y","pixel":890,"mag":1.29},{"band":"y","pixel":897,"mag":1.31},{"band":"y","pixel":906,"mag":1.26},{"band":"y","pixel":915,"mag":1.22},{"band":"y","pixel":931,"mag":1.17},{"band":"y","pixel":947,"mag":1.12},{"band":"y","pixel":958,"mag":1.09},{"band":"y","pixel":975,"mag":1.06},{"band":"y","pixel":1005,"mag":1.01},{"band":"y","pixel":1030,"mag":0.99},{"band":"y","pixel":1040,"mag":0.98},{"band":"y","pixel":1048,"mag":0.97},{"band":"y","pixel":1058,"mag":0.94},{"band":"y","pixel":1068,"mag":0.85},{"band":"y","pixel":1076,"mag":0.70},{"band":"y","pixel":1083,"mag":0.45},{"band":"y","pixel":1090,"mag":0.18},{"band":"y","pixel":1097,"mag":0.04},{"band":"y","pixel":1103,"mag":0.01},{"band":"y","pixel":1110,"mag":0.07},{"band":"y","pixel":1118,"mag":0.18},{"band":"y","pixel":1128,"mag":0.32},{"band":"y","pixel":1144,"mag":0.49},{"band":"y","pixel":1156,"mag":0.61},{"band":"y","pixel":1169,"mag":0.71},{"band":"y","pixel":1185,"mag":0.77},{"band":"y","pixel":1198,"mag":0.79},{"band":"y","pixel":1212,"mag":0.74},{"band":"y","pixel":1220,"mag":0.68},{"band":"y","pixel":1226,"mag":0.58},{"band":"y","pixel":1234,"mag":0.33},{"band":"y","pixel":1242,"mag":0.09},{"band":"y","pixel":1250,"mag":-0.12},{"band":"y","pixel":1259,"mag":-0.28},{"band":"y","pixel":1270,"mag":-0.40},{"band":"y","pixel":1284,"mag":-0.45},{"band":"y","pixel":1296,"mag":-0.36},{"band":"y","pixel":1308,"mag":-0.23},{"band":"y","pixel":1320,"mag":-0.16},{"band":"y","pixel":1333,"mag":-0.11},{"band":"y","pixel":1353,"mag":-0.09},{"band":"y","pixel":1382,"mag":-0.12},{"band":"y","pixel":1410,"mag":-0.20}
]},
"mark": {"type": "line", "strokeWidth": 1.6, "interpolate": "monotone"},
"encoding": {
  "x": {"field": "pixel", "type": "quantitative", "scale": {"domain": [0, 1600], "nice": false, "zero": false},
        "axis": {"orient": "bottom", "values": [0,200,400,600,800,1000,1200,1400,1600], "format": "d", "labelPadding": 12, "title": "pixel", "titleFontSize": 27, "titlePadding": 3}},
  "y": {"field": "mag", "type": "quantitative", "scale": {"domain": [-4, 3], "reverse": true, "nice": false, "zero": false},
        "axis": {"orient": "left", "values": [-4,-3,-2,-1,0,1,2,3], "format": "d", "labelPadding": 11, "title": null}},
  "color": {"field": "band", "type": "nominal",
    "scale": {"domain": ["u","g","r","i","z","y"], "range": ["#bf00bf","#00bfbf","#0000ff","#008000","#bfbf00","#ff0000"]},
    "legend": {"orient": "top-left", "offset": 13, "title": null, "padding": 3, "clipHeight": 36, "rowPadding": 5, "symbolOffset": 16, "symbolType": "stroke", "symbolSize": 1849, "symbolStrokeWidth": 1.5, "labelExpr": "'σ'", "labelFont": "Liberation Serif", "labelFontStyle": "italic", "labelFontSize": 24, "labelColor": "black", "labelOffset": 35}},
  "strokeDash": {"field": "band", "type": "nominal",
    "scale": {"domain": ["u","g","r","i","z","y"], "range": [[1,0],[1,0],[1,0],[1,0],[1,0],[1,0]]},
    "legend": {"orient": "none", "legendX": 13, "legendY": 13, "title": null, "padding": 3, "clipHeight": 36, "rowPadding": 5, "symbolOffset": 16, "strokeColor": "#222222", "symbolType": "stroke", "symbolSize": 1849, "symbolStrokeColor": "transparent", "symbolFillColor": "transparent", "symbolStrokeWidth": 0, "labelExpr": "datum.label + '\u2800'", "labelFont": "Liberation Serif", "labelFontStyle": "italic", "labelFontSize": 15, "labelColor": "black", "labelOffset": 49, "labelBaseline": "top"}}
}
},
{
"data": {"values": [{}]},
"mark": {"type": "rule", "strokeWidth": 6, "color": "#5b8fc8"},
"encoding": {
  "x": {"datum": 0, "type": "quantitative", "axis": {"orient": "top", "values": [0,200,400,600,800,1000,1200,1400,1600], "labels": false, "title": null}},
  "x2": {"datum": 1600},
  "y": {"datum": 2.671, "type": "quantitative", "axis": {"orient": "right", "values": [-4,-3,-2,-1,0,1,2,3], "labels": false, "title": null}}
}
},
{
"data": {"values": [{}]},
"mark": {"type": "point", "shape": "M1,-1L0,0L1,1", "size": 1100, "filled": false, "strokeWidth": 6, "color": "#5b8fc8", "opacity": 1, "strokeCap": "round", "strokeJoin": "round"},
"encoding": {"x": {"datum": 0, "type": "quantitative", "axis": null}, "y": {"datum": 2.671, "type": "quantitative", "axis": null}}
},
{
"data": {"values": [{}]},
"mark": {"type": "point", "shape": "M-1,-1L0,0L-1,1", "size": 1100, "filled": false, "strokeWidth": 6, "color": "#5b8fc8", "opacity": 1, "strokeCap": "round", "strokeJoin": "round"},
"encoding": {"x": {"datum": 1600, "type": "quantitative", "axis": null}, "y": {"datum": 2.671, "type": "quantitative", "axis": null}}
},
{
"data": {"values": [{}]},
"mark": {"type": "text", "text": "Δ [mag]", "font": "DejaVu Sans", "fontSize": 20, "angle": 270, "align": "center", "baseline": "alphabetic", "color": "#111111"},
"encoding": {"x": {"datum": -117, "type": "quantitative", "axis": null}, "y": {"datum": -0.51, "type": "quantitative", "axis": null}}
},
{
"data": {"values": [{}]},
"mark": {"type": "text", "text": "4000 days", "font": "Lato", "fontSize": 42, "align": "center", "baseline": "alphabetic", "color": "black"},
"encoding": {"x": {"datum": 706, "type": "quantitative", "axis": null}, "y": {"datum": 2.5, "type": "quantitative", "axis": null}}
},
{
"data": {"values": [{}]},
"mark": {"type": "text", "text": "T", "font": "Liberation Serif", "fontStyle": "italic", "fontSize": 51, "align": "left", "baseline": "alphabetic", "color": "black"},
"encoding": {"x": {"datum": 821, "type": "quantitative", "axis": null}, "y": {"datum": -3.69, "type": "quantitative", "axis": null}}
},
{
"data": {"values": [{}]},
"mark": {"type": "text", "text": "eff", "font": "Liberation Serif", "fontSize": 33, "align": "left", "baseline": "alphabetic", "color": "black"},
"encoding": {"x": {"datum": 908, "type": "quantitative", "axis": null}, "y": {"datum": -3.647, "type": "quantitative", "axis": null}}
},
{
"data": {"values": [{}]},
"mark": {"type": "text", "text": "∝", "font": "Liberation Serif", "fontSize": 50, "align": "center", "baseline": "middle", "color": "black"},
"encoding": {"x": {"datum": 1090, "type": "quantitative", "axis": null}, "y": {"datum": -3.74, "type": "quantitative", "axis": null}}
},
{
"data": {"values": [{}]},
"mark": {"type": "text", "text": "r", "font": "Liberation Serif", "fontStyle": "italic", "fontSize": 51, "align": "left", "baseline": "alphabetic", "color": "black"},
"encoding": {"x": {"datum": 1186, "type": "quantitative", "axis": null}, "y": {"datum": -3.69, "type": "quantitative", "axis": null}}
},
{
"data": {"values": [{}]},
"mark": {"type": "text", "text": "−1/ν", "font": "Liberation Serif", "fontStyle": "italic", "fontSize": 44, "align": "left", "baseline": "alphabetic", "color": "black"},
"encoding": {"x": {"datum": 1238, "type": "quantitative", "axis": null}, "y": {"datum": -3.813, "type": "quantitative", "axis": null}}
},
{
"data": {"values": [{}]},
"mark": {"type": "text", "text": "σ", "font": "Liberation Serif", "fontSize": 44, "align": "left", "baseline": "alphabetic", "color": "black"},
"encoding": {"x": {"datum": 546, "type": "quantitative", "axis": null}, "y": {"datum": -3.303, "type": "quantitative", "axis": null}}
},
{
"data": {"values": [{}]},
"mark": {"type": "text", "text": "0", "font": "Liberation Serif", "fontSize": 25, "align": "left", "baseline": "alphabetic", "color": "black"},
"encoding": {"x": {"datum": 615, "type": "quantitative", "axis": null}, "y": {"datum": -3.23, "type": "quantitative", "axis": null}}
},
{
"data": {"values": [{}]},
"mark": {"type": "text", "text": "(1126 Å)", "font": "Liberation Serif", "fontSize": 41, "align": "left", "baseline": "alphabetic", "color": "black"},
"encoding": {"x": {"datum": 657, "type": "quantitative", "axis": null}, "y": {"datum": -3.303, "type": "quantitative", "axis": null}}
},
{
"data": {"values": [{}]},
"mark": {"type": "text", "text": "=", "font": "Lato", "fontSize": 38, "align": "left", "baseline": "alphabetic", "color": "black"},
"encoding": {"x": {"datum": 1039, "type": "quantitative", "axis": null}, "y": {"datum": -3.303, "type": "quantitative", "axis": null}}
},
{
"data": {"values": [{}]},
"mark": {"type": "text", "text": "0.1 l-d", "font": "Lato", "fontSize": 39, "align": "right", "baseline": "alphabetic", "color": "black"},
"encoding": {"x": {"datum": 1469, "type": "quantitative", "axis": null}, "y": {"datum": -3.303, "type": "quantitative", "axis": null}}
},
{
"data": {"values": [{}]},
"mark": {"type": "text", "text": "ν = 4/3", "font": "Liberation Serif", "fontSize": 44, "align": "right", "baseline": "alphabetic", "color": "black"},
"encoding": {"x": {"datum": 1469, "type": "quantitative", "axis": null}, "y": {"datum": -2.966, "type": "quantitative", "axis": null}}
},
{
"data": {"values": [{}]},
"mark": {"type": "text", "text": "u", "font": "Lato", "fontSize": 44, "align": "center", "baseline": "alphabetic", "color": "#800080"},
"encoding": {"x": {"datum": 1445, "type": "quantitative", "axis": null}, "y": {"datum": -2.505, "type": "quantitative", "axis": null}}
},
{
"data": {"values": [{}]},
"mark": {"type": "text", "text": "g", "font": "Lato", "fontSize": 44, "align": "center", "baseline": "alphabetic", "color": "#00ffff"},
"encoding": {"x": {"datum": 1445, "type": "quantitative", "axis": null}, "y": {"datum": -2.167, "type": "quantitative", "axis": null}}
},
{
"data": {"values": [{}]},
"mark": {"type": "text", "text": "r", "font": "Lato", "fontSize": 44, "align": "center", "baseline": "alphabetic", "color": "#0000ff"},
"encoding": {"x": {"datum": 1445, "type": "quantitative", "axis": null}, "y": {"datum": -1.799, "type": "quantitative", "axis": null}}
},
{
"data": {"values": [{}]},
"mark": {"type": "text", "text": "i", "font": "Lato", "fontSize": 44, "align": "center", "baseline": "alphabetic", "color": "#008000"},
"encoding": {"x": {"datum": 1445, "type": "quantitative", "axis": null}, "y": {"datum": -1.461, "type": "quantitative", "axis": null}}
},
{
"data": {"values": [{}]},
"mark": {"type": "text", "text": "z", "font": "Lato", "fontSize": 44, "align": "center", "baseline": "alphabetic", "color": "#ffff00"},
"encoding": {"x": {"datum": 1445, "type": "quantitative", "axis": null}, "y": {"datum": -1.093, "type": "quantitative", "axis": null}}
},
{
"data": {"values": [{}]},
"mark": {"type": "text", "text": "y", "font": "Lato", "fontSize": 44, "align": "center", "baseline": "alphabetic", "color": "#ff0000"},
"encoding": {"x": {"datum": 1445, "type": "quantitative", "axis": null}, "y": {"datum": -0.755, "type": "quantitative", "axis": null}}
}
]
}
